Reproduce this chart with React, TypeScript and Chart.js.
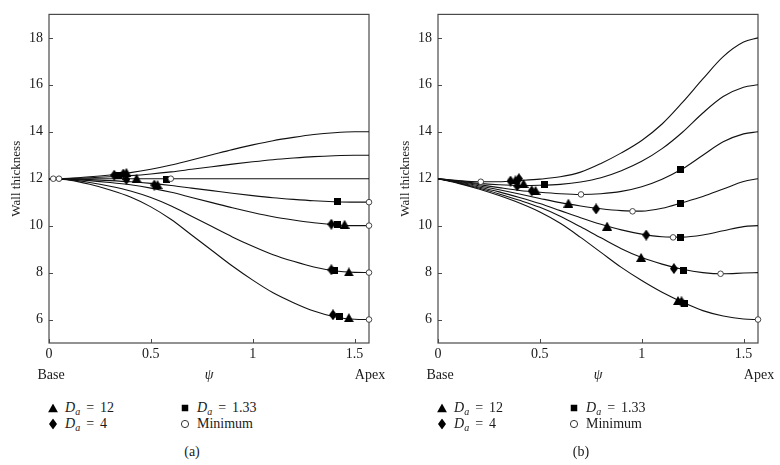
import React, { useEffect, useRef } from 'react';
import { Chart, registerables } from 'chart.js';
Chart.register(...registerables);

const FONT = '"Liberation Serif", "DejaVu Serif", serif';
const TEXT = '#1a1a1a';
const AXIS = '#4a4a4a';

// psi grid (base -> apex)
const psi = [0, 0.1, 0.2, 0.3, 0.4, 0.5, 0.6, 0.7, 0.8, 0.9, 1.0, 1.1, 1.2, 1.3, 1.4, 1.5, 1.5708];
const xTicks = [0, 0.5, 1, 1.5];
const yTicks = [6, 8, 10, 12, 14, 16, 18];

// Panel (a) curves
const a14 = [12, 12.02, 12.08, 12.16, 12.26, 12.4, 12.58, 12.8, 13.02, 13.24, 13.44, 13.62, 13.76, 13.88, 13.96, 14.0, 14];
const a13 = [12, 12.01, 12.04, 12.08, 12.13, 12.2, 12.29, 12.4, 12.51, 12.62, 12.72, 12.81, 12.88, 12.94, 12.98, 13.0, 13];
const a12 = [12, 12, 12, 12, 12, 12, 12, 12, 12, 12, 12, 12, 12, 12, 12, 12, 12];
const a11 = [12, 11.99, 11.96, 11.92, 11.87, 11.8, 11.71, 11.6, 11.49, 11.38, 11.28, 11.19, 11.12, 11.06, 11.02, 11.0, 11];
const a10 = [12, 11.98, 11.92, 11.84, 11.74, 11.6, 11.42, 11.2, 10.98, 10.76, 10.56, 10.38, 10.24, 10.12, 10.04, 10.0, 10];
const a8 = [12, 11.96, 11.84, 11.68, 11.48, 11.2, 10.84, 10.4, 9.96, 9.52, 9.12, 8.76, 8.48, 8.24, 8.08, 8.01, 8];
const a6 = [12, 11.94, 11.76, 11.52, 11.22, 10.8, 10.26, 9.6, 8.94, 8.28, 7.68, 7.14, 6.72, 6.36, 6.12, 6.01, 6];

// Panel (a) markers
const aTriX = [0.38, 0.43, 0.533, 1.451, 1.472, 1.472];
const aTriY = [12.27, 12.02, 11.75, 10.06, 8.03, 6.08];
const aDiaX = [0.32, 0.365, 0.38, 0.517, 1.386, 1.386, 1.394];
const aDiaY = [12.15, 12.2, 11.97, 11.73, 10.06, 8.12, 6.2];
const aSqX = [0.343, 0.577, 1.418, 1.418, 1.4, 1.427];
const aSqY = [12.12, 11.98, 11.02, 10.06, 8.1, 6.13];
const aMinX = [0.021, 0.049, 0.598, 1.5708, 1.5708, 1.5708, 1.5708];
const aMinY = [12, 12, 12, 11, 10, 8, 6];

// Panel (b) curves
const b18 = [12, 11.92, 11.87, 11.87, 11.92, 11.98, 12.08, 12.28, 12.65, 13.1, 13.63, 14.33, 15.25, 16.25, 17.2, 17.82, 18];
const b16 = [12, 11.9, 11.8, 11.74, 11.71, 11.72, 11.76, 11.86, 12.04, 12.34, 12.74, 13.28, 13.98, 14.8, 15.5, 15.9, 16];
const b14 = [12, 11.88, 11.75, 11.62, 11.5, 11.42, 11.36, 11.33, 11.36, 11.46, 11.66, 11.98, 12.42, 13.0, 13.57, 13.91, 14];
const b12 = [12, 11.86, 11.7, 11.53, 11.35, 11.16, 10.98, 10.84, 10.72, 10.64, 10.62, 10.74, 10.98, 11.24, 11.56, 11.88, 12];
const b10 = [12, 11.84, 11.65, 11.44, 11.2, 10.94, 10.64, 10.34, 10.06, 9.82, 9.64, 9.53, 9.51, 9.6, 9.78, 9.96, 10];
const b8 = [12, 11.82, 11.6, 11.35, 11.08, 10.78, 10.4, 9.95, 9.48, 9.02, 8.64, 8.36, 8.14, 8.0, 7.95, 7.98, 8];
const b6 = [12, 11.8, 11.56, 11.28, 10.96, 10.58, 10.1, 9.5, 8.86, 8.22, 7.66, 7.16, 6.74, 6.38, 6.15, 6.02, 6];

// Panel (b) markers
const bTriX = [0.38, 0.42, 0.479, 0.64, 0.83, 0.997, 1.178];
const bTriY = [11.95, 11.8, 11.5, 10.96, 9.98, 8.65, 6.81];
const bDiaX = [0.356, 0.397, 0.389, 0.46, 0.776, 1.022, 1.158, 1.195];
const bDiaY = [11.9, 12.0, 11.69, 11.48, 10.71, 9.6, 8.17, 6.75];
const bSqX = [0.522, 1.19, 1.19, 1.19, 1.203, 1.21];
const bSqY = [11.75, 12.4, 10.93, 9.5, 8.1, 6.67];
const bMinX = [0.21, 0.702, 0.955, 1.154, 1.387, 1.5708];
const bMinY = [11.87, 11.33, 10.61, 9.5, 7.95, 6.0];

const panelA = {
  curves: [a14, a13, a12, a11, a10, a8, a6],
  tri: [aTriX, aTriY], dia: [aDiaX, aDiaY], sq: [aSqX, aSqY], min: [aMinX, aMinY],
};
const panelB = {
  curves: [b18, b16, b14, b12, b10, b8, b6],
  tri: [bTriX, bTriY], dia: [bDiaX, bDiaY], sq: [bSqX, bSqY], min: [bMinX, bMinY],
};

const pts = (xs: number[], ys: number[]) => xs.map((x, i) => ({ x, y: ys[i] }));

function shapeCanvas(kind: string) {
  const c = document.createElement('canvas');
  const size = kind === 'tri' ? [10, 9] : kind === 'dia' ? [8, 11] : [7, 7];
  c.width = size[0];
  c.height = size[1];
  const g = c.getContext('2d')!;
  g.fillStyle = '#000';
  g.beginPath();
  const [w, h] = size;
  if (kind === 'tri') {
    g.moveTo(w / 2, 0); g.lineTo(w, h); g.lineTo(0, h);
  } else if (kind === 'dia') {
    g.moveTo(w / 2, 0); g.lineTo(w, h / 2); g.lineTo(w / 2, h); g.lineTo(0, h / 2);
  } else {
    g.rect(0, 0, w, h);
  }
  g.closePath();
  g.fill();
  return c;
}

const framePlugin = {
  id: 'frame',
  beforeDatasetsDraw(chart: any) {
    const { ctx, chartArea, scales } = chart;
    const { left, right, top, bottom } = chartArea;
    ctx.save();
    ctx.strokeStyle = AXIS;
    ctx.lineWidth = 1.2;
    ctx.strokeRect(left, top, right - left, bottom - top);
    ctx.lineWidth = 1;
    ctx.beginPath();
    xTicks.forEach((v) => {
      const px = Math.round(scales.x.getPixelForValue(v)) + 0.5;
      ctx.moveTo(px, bottom); ctx.lineTo(px, bottom - 4);
    });
    yTicks.forEach((v) => {
      const py = Math.round(scales.y.getPixelForValue(v)) + 0.5;
      ctx.moveTo(left, py); ctx.lineTo(left + 4, py);
    });
    ctx.stroke();
    ctx.restore();
  },
  afterDraw(chart: any) {
    const { ctx, chartArea, scales } = chart;
    ctx.save();
    ctx.font = '14px ' + FONT;
    ctx.fillStyle = TEXT;
    ctx.textAlign = 'center';
    ctx.textBaseline = 'middle';
    const y = scales.x.bottom - 8.4;
    ctx.fillText('Base', chartArea.left + 2, y);
    ctx.fillText('Apex', chartArea.right + 1, y);
    ctx.restore();
  },
};

function ChartPanel({ panel }: { panel: any }) {
  const ref = useRef<HTMLCanvasElement>(null);
  useEffect(() => {
    const tri = shapeCanvas('tri');
    const dia = shapeCanvas('dia');
    const sq = shapeCanvas('sq');
    const curveSets = panel.curves.map((ys: number[]) => ({
      data: pts(psi, ys),
      showLine: true,
      borderColor: '#111',
      borderWidth: 1.1,
      pointRadius: 0,
      cubicInterpolationMode: 'monotone',
      fill: false,
      order: 3,
    }));
    const mk = (xy: number[][], style: any, order: number) => ({
      data: pts(xy[0], xy[1]),
      showLine: false,
      pointStyle: style,
      pointRadius: 5,
      order,
      clip: false,
    });
    const chart = new Chart(ref.current!, {
      type: 'scatter',
      data: {
        datasets: [
          {
            data: pts(panel.min[0], panel.min[1]),
            showLine: false,
            pointStyle: 'circle',
            pointRadius: 2.8,
            pointBackgroundColor: '#fff',
            pointBorderColor: '#333',
            pointBorderWidth: 0.9,
            order: 0,
            clip: false,
          },
          mk(panel.sq, sq, 1),
          mk(panel.dia, dia, 1),
          mk(panel.tri, tri, 1),
          ...curveSets,
        ] as any,
      },
      options: {
        responsive: false,
        animation: false,
        events: [],
        layout: { padding: { left: 0, top: 8, right: 21, bottom: 0 } },
        plugins: { legend: { display: false }, tooltip: { enabled: false } },
        scales: {
          x: {
            type: 'linear',
            min: 0,
            max: 1.5708,
            afterBuildTicks: (s: any) => { s.ticks = xTicks.map((v) => ({ value: v })); },
            afterFit: (s: any) => { s.height = 41; },
            grid: { display: false, drawTicks: false },
            border: { display: false },
            ticks: {
              padding: 3, color: TEXT, font: { family: FONT, size: 14 },
              callback: (v: any) => String(v), maxRotation: 0, autoSkip: false,
            },
            title: {
              display: true, text: 'ψ', color: TEXT,
              font: { family: FONT, size: 14, style: 'italic' },
              padding: { top: 0, bottom: 0 },
            },
          },
          y: {
            type: 'linear',
            min: 5,
            max: 19,
            afterBuildTicks: (s: any) => { s.ticks = yTicks.map((v) => ({ value: v })); },
            afterFit: (s: any) => { s.width = 49; },
            grid: { display: false, drawTicks: false },
            border: { display: false },
            ticks: {
              padding: 6, color: TEXT, font: { family: FONT, size: 14 },
              callback: (v: any) => String(v), autoSkip: false,
            },
            title: {
              display: true, text: 'Wall thickness', color: TEXT,
              font: { family: FONT, size: 13 },
              padding: { top: 9, bottom: 0 },
            },
          },
        },
      } as any,
      plugins: [framePlugin],
    });
    return () => chart.destroy();
  }, [panel]);
  return <canvas ref={ref} width={390} height={384} style={{ position: 'absolute', left: 0, top: 0 }} />;
}

function Sym({ kind }: { kind: string }) {
  if (kind === 'tri') return <svg width={10} height={9}><polygon points="5,0 10,9 0,9" fill="#000" /></svg>;
  if (kind === 'dia') return <svg width={8} height={11}><polygon points="4,0 8,5.5 4,11 0,5.5" fill="#000" /></svg>;
  if (kind === 'sq') return <svg width={7} height={7}><rect x={0} y={0} width={7} height={7} fill="#000" /></svg>;
  return <svg width={9} height={9}><circle cx={4.5} cy={4.5} r={3.6} fill="#fff" stroke="#333" strokeWidth={1} /></svg>;
}

function Da({ v }: { v: string }) {
  return (
    <span>
      <i>D</i>
      <i style={{ fontSize: 10, position: 'relative', top: 3 }}>a</i>
      <span style={{ margin: '0 6px 0 6px' }}>=</span>
      {v}
    </span>
  );
}

function LegendItem({ x, y, kind, children }: { x: number; y: number; kind: string; children: any }) {
  return (
    <>
      <div style={{ position: 'absolute', left: x, top: y, transform: 'translate(-50%, -50%)', lineHeight: 0 }}>
        <Sym kind={kind} />
      </div>
      <div style={{ position: 'absolute', left: x + 12, top: y, transform: 'translateY(-50%)', whiteSpace: 'nowrap', lineHeight: '16px' }}>
        {children}
      </div>
    </>
  );
}

function Panel({ ox, panel, caption }: { ox: number; panel: any; caption: string }) {
  return (
    <div style={{ position: 'absolute', left: ox, top: 0, width: 390, height: 465 }}>
      <ChartPanel panel={panel} />
      <LegendItem x={53} y={408} kind="tri"><Da v="12" /></LegendItem>
      <LegendItem x={53} y={424} kind="dia"><Da v="4" /></LegendItem>
      <LegendItem x={185} y={408} kind="sq"><Da v="1.33" /></LegendItem>
      <LegendItem x={185} y={424} kind="circ"><span>Minimum</span></LegendItem>
      <div style={{ position: 'absolute', left: 192, top: 452, transform: 'translate(-50%, -50%)', lineHeight: '16px' }}>{caption}</div>
    </div>
  );
}

export default function App() {
  return (
    <div style={{ position: 'absolute', left: 0, top: 0, width: 780, height: 465, background: '#fff', fontFamily: FONT, fontSize: 14, color: TEXT }}>
      <Panel ox={0} panel={panelA} caption="(a)" />
      <Panel ox={389} panel={panelB} caption="(b)" />
    </div>
  );
}
